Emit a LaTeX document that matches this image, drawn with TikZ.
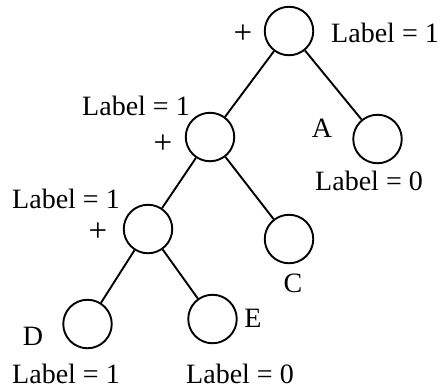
\documentclass[tikz,border=0pt]{standalone}
\usepackage{fontspec}
\setmainfont{Liberation Serif}
\begin{document}
\begin{tikzpicture}[x=1pt,y=-1pt,
  vtx/.style={draw,circle,line width=1.9pt,minimum size=48.5pt,inner sep=0pt},
  txt/.style={inner sep=0pt,anchor=base,font=\fontsize{28}{33}\selectfont},
  plus/.style={inner sep=0pt,anchor=base,font=\fontsize{33}{38}\selectfont},
  edge/.style={line width=1.9pt}]
\useasboundingbox (0,0) rectangle (443,391);
\node[vtx] (r) at (289,31) {};
\node[vtx] (l1) at (210,137) {};
\node[vtx] (a) at (377.5,139) {};
\node[vtx] (l2) at (148,229) {};
\node[vtx] (c) at (289,239) {};
\node[vtx] (d) at (87.5,324) {};
\node[vtx] (e) at (212.5,319) {};
\draw[edge] (r) -- (l1);
\draw[edge] (r) -- (a);
\draw[edge] (l1) -- (l2);
\draw[edge] (l1) -- (c);
\draw[edge] (l2) -- (d);
\draw[edge] (l2) -- (e);
\node[plus] (rp) at (243,43) {+};
\node[txt] (rl) at (385,42) {Label = 1};
\node[txt] (al) at (322,137) {A};
\node[txt] (a0) at (369,190) {Label = 0};
\node[txt] (l1l) at (136,115) {Label = 1};
\node[plus] (l1p) at (163,153) {+};
\node[txt] (l2l) at (66,208) {Label = 1};
\node[plus] (l2p) at (98,241) {+};
\node[txt] (cl) at (293,292) {C};
\node[txt] (dl) at (33,345) {D};
\node[txt] (el) at (253,327) {E};
\node[txt] (d1) at (66,383) {Label = 1};
\node[txt] (e0) at (240,383) {Label = 0};
\end{tikzpicture}
\end{document}
